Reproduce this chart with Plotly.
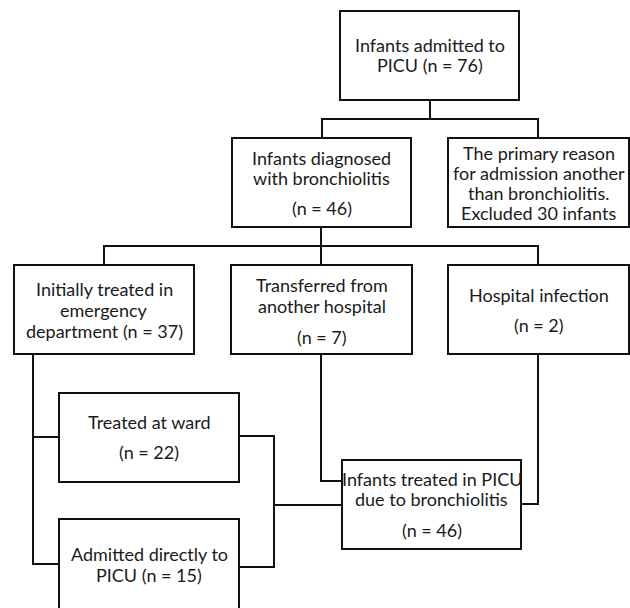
import plotly.graph_objects as go

# ---- data: flow-chart nodes (text) and counts ----
node_names = ["admitted", "diagnosed", "excluded", "emergency", "transferred",
              "hospital", "ward", "direct", "picu"]
node_counts = [76, 46, 30, 37, 7, 2, 22, 15, 46]
node_lines = [
    ["Infants admitted to", "PICU (n = {n})"],
    ["Infants diagnosed", "with bronchiolitis", "(n = {n})"],
    ["The primary reason", "for admission another", "than bronchiolitis.", "Excluded {n} infants"],
    ["Initially treated in", "emergency", "department (n = {n})"],
    ["Transferred from", "another hospital", "(n = {n})"],
    ["Hospital infection", "(n = {n})"],
    ["Treated at ward", "(n = {n})"],
    ["Admitted directly to", "PICU (n = {n})"],
    ["Infants treated in PICU", "due to bronchiolitis", "(n = {n})"],
]

# ---- layout: box geometry (x0, x1, y0, y1) and text line positions ----
boxes = {
    "admitted": (340, 519, 11, 100),
    "diagnosed": (232, 411, 138, 227),
    "excluded": (448, 629, 138, 227),
    "emergency": (14, 194, 265, 354),
    "transferred": (231, 412, 265, 354),
    "hospital": (448, 629, 265, 354),
    "ward": (59, 239, 393, 482),
    "direct": (59, 239, 519, 614),
    "picu": (342, 521, 460, 549),
}
line_y = {
    "admitted": [45, 65],
    "diagnosed": [158, 178, 208],
    "excluded": [153, 173, 193, 213],
    "emergency": [289, 310, 331],
    "transferred": [285, 306, 337],
    "hospital": [295, 325],
    "ward": [422, 452],
    "direct": [554, 575],
    "picu": [479, 499, 530],
}
connectors = [
    [(430, 100), (430, 119)],
    [(322, 138), (322, 119), (538, 119), (538, 138)],
    [(321, 227), (321, 265)],
    [(104, 265), (104, 246), (538, 246), (538, 265)],
    [(33, 354), (33, 564), (59, 564)],
    [(33, 437), (59, 437)],
    [(239, 436), (274, 436), (274, 567), (239, 567)],
    [(274, 505), (342, 505)],
    [(321, 354), (321, 481), (342, 481)],
    [(538, 354), (538, 504), (521, 504)],
]

W, H = 630, 608
FONT = "Lato, Carlito, Calibri, 'Open Sans', sans-serif"

fig = go.Figure()

# connectors as one line trace
xs, ys = [], []
for path in connectors:
    for (x, y) in path:
        xs.append(x)
        ys.append(y)
    xs.append(None)
    ys.append(None)
fig.add_trace(go.Scatter(x=xs, y=ys, mode="lines",
                         line=dict(color="#111111", width=2),
                         hoverinfo="skip", showlegend=False))

shapes = []
annotations = []
for name, n, lines in zip(node_names, node_counts, node_lines):
    x0, x1, y0, y1 = boxes[name]
    shapes.append(dict(type="rect", xref="x", yref="y", x0=x0, x1=x1, y0=y0, y1=y1,
                       line=dict(color="#111111", width=2), fillcolor="white",
                       layer="above"))
    cx = (x0 + x1) / 2
    for txt, ty in zip(lines, line_y[name]):
        annotations.append(dict(x=cx, y=ty, xref="x", yref="y",
                                text=txt.format(n=n), showarrow=False,
                                xanchor="center", yanchor="middle",
                                font=dict(family=FONT, size=18, color="#1a1a1a")))

fig.update_layout(
    width=W, height=H,
    margin=dict(l=0, r=0, t=0, b=0),
    paper_bgcolor="white", plot_bgcolor="white",
    xaxis=dict(range=[0, W], visible=False, fixedrange=True),
    yaxis=dict(range=[H, 0], visible=False, fixedrange=True),
    shapes=shapes,
    annotations=annotations,
    showlegend=False,
)

fig.write_html("out.html", config={"displayModeBar": False},
               post_script="document.body.style.margin='0';document.body.style.overflow='hidden';")
